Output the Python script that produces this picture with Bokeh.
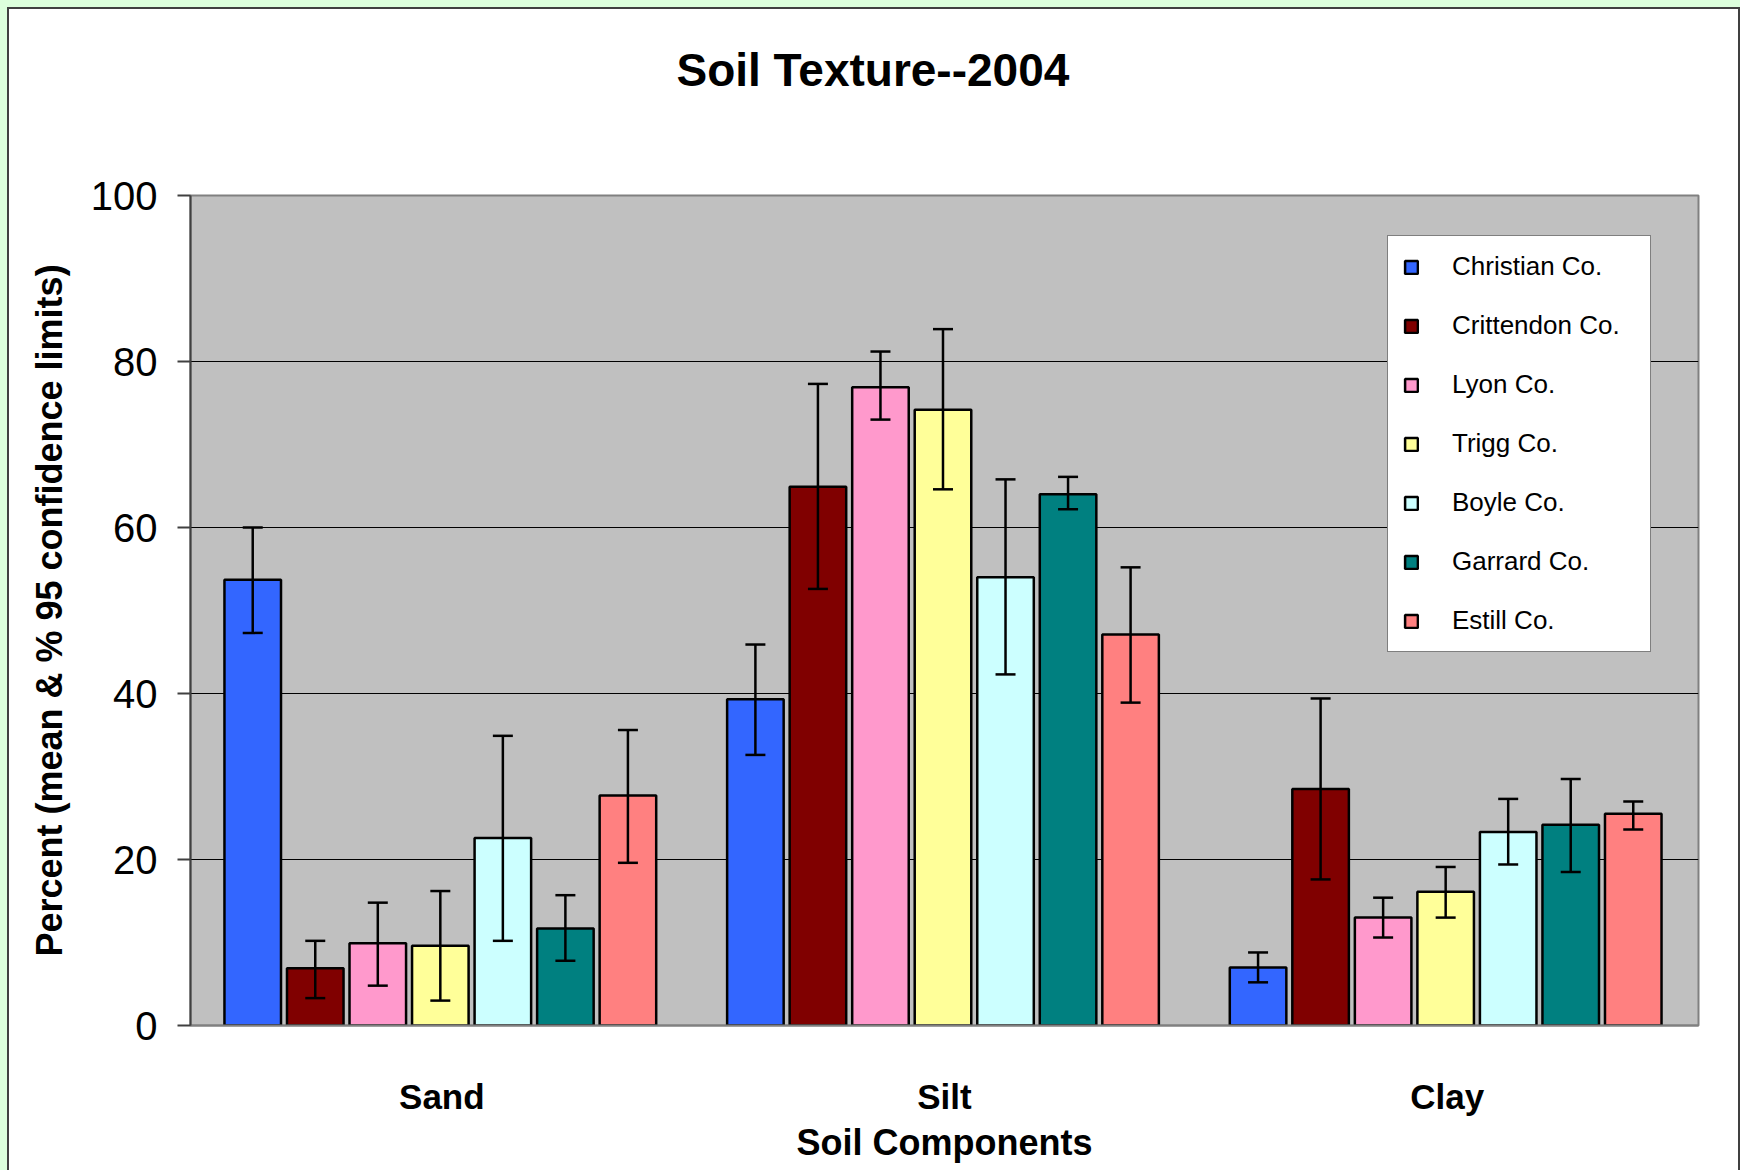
from bokeh.plotting import figure
from bokeh.models import (ColumnDataSource, FactorRange, Range1d, Whisker, TeeHead,
                          Legend, LegendItem, Title, FixedTicker)
from bokeh.transform import dodge
from bokeh.embed import file_html
from bokeh.resources import INLINE

# ---------------- data ----------------
components = ["Sand", "Silt", "Clay"]
counties = ["Christian Co.", "Crittendon Co.", "Lyon Co.", "Trigg Co.",
            "Boyle Co.", "Garrard Co.", "Estill Co."]
colors = ["#3366FF", "#800000", "#FF99CC", "#FFFF99", "#CCFFFF", "#008080", "#FF8080"]

christian_mean = [53.7, 39.3, 7.0]
crittendon_mean = [6.9, 64.9, 28.5]
lyon_mean = [9.9, 76.9, 13.0]
trigg_mean = [9.6, 74.2, 16.1]
boyle_mean = [22.6, 54.0, 23.3]
garrard_mean = [11.7, 64.0, 24.2]
estill_mean = [27.7, 47.1, 25.5]

christian_upper = [60.0, 45.9, 8.8]
crittendon_upper = [10.2, 77.3, 39.4]
lyon_upper = [14.8, 81.2, 15.4]
trigg_upper = [16.2, 83.9, 19.1]
boyle_upper = [34.9, 65.8, 27.3]
garrard_upper = [15.7, 66.1, 29.7]
estill_upper = [35.6, 55.2, 27.0]

christian_lower = [47.3, 32.6, 5.2]
crittendon_lower = [3.3, 52.6, 17.6]
lyon_lower = [4.8, 73.0, 10.6]
trigg_lower = [3.0, 64.6, 13.0]
boyle_lower = [10.2, 42.3, 19.4]
garrard_lower = [7.8, 62.2, 18.5]
estill_lower = [19.6, 38.9, 23.6]

y_ticks = [0, 20, 40, 60, 80, 100]

means = [christian_mean, crittendon_mean, lyon_mean, trigg_mean,
         boyle_mean, garrard_mean, estill_mean]
uppers = [christian_upper, crittendon_upper, lyon_upper, trigg_upper,
          boyle_upper, garrard_upper, estill_upper]
lowers = [christian_lower, crittendon_lower, lyon_lower, trigg_lower,
          boyle_lower, garrard_lower, estill_lower]

FONT = "Liberation Sans"

p = figure(x_range=FactorRange(factors=components, range_padding=0),
           y_range=Range1d(0, 100),
           width=1740, height=1170,
           output_backend="svg", toolbar_location=None,
           min_border_left=190, min_border_right=42,
           min_border_top=195, min_border_bottom=145)

# white chart area with the thin mint margin and dark frame line of the original
p.border_fill_alpha = 0
p.styles = {"background-color": "white",
            "box-shadow": "inset 7px 7px 0 0 #dcffdc, inset 9px 9px 0 0 #404040, "
                          "inset -2px 0 0 0 #404040"}

p.title = Title(text="Soil Texture--2004", align="left", offset=486,
                text_font=FONT, text_font_size="46px", text_font_style="bold",
                text_color="black", standoff=0)
# blank spacer between the title and the plot area
p.add_layout(Title(text=" ", text_font_size="2px", standoff=96), "above")

p.background_fill_color = "#C0C0C0"
p.outline_line_color = "#808080"
p.outline_line_width = 2

p.xgrid.visible = False
p.ygrid.grid_line_color = "black"
p.ygrid.grid_line_width = 1
p.ygrid.ticker = FixedTicker(ticks=[20, 40, 60, 80])

pitch = 0.1244
bar_w = 0.1125
renderers = []
for i, name in enumerate(counties):
    src = ColumnDataSource(dict(x=components, top=means[i],
                                upper=uppers[i], lower=lowers[i]))
    off = (i - 3) * pitch - 0.003
    r = p.vbar(x=dodge("x", off, range=p.x_range), top="top", width=bar_w,
               source=src, fill_color=colors[i], line_color="black", line_width=2.5)
    renderers.append(r)
    w = Whisker(base=dodge("x", off, range=p.x_range), upper="upper", lower="lower",
                source=src, line_color="black", line_width=2.5, level="overlay",
                upper_head=TeeHead(size=20, line_width=2.5, line_color="black"),
                lower_head=TeeHead(size=20, line_width=2.5, line_color="black"))
    p.add_layout(w)

# axes
p.yaxis.ticker = FixedTicker(ticks=y_ticks)
p.yaxis.axis_label = "Percent (mean & % 95 confidence limits)"
p.yaxis.axis_label_text_font = FONT
p.yaxis.axis_label_text_font_size = "36px"
p.yaxis.axis_label_text_font_style = "bold"
p.yaxis.axis_label_text_color = "black"
p.yaxis.axis_label_standoff = 18
p.yaxis.major_label_text_font = FONT
p.yaxis.major_label_text_font_size = "40px"
p.yaxis.major_label_text_color = "black"
p.yaxis.major_label_standoff = 20
p.yaxis.major_tick_out = 13
p.yaxis.major_tick_in = 0
p.yaxis.minor_tick_line_color = None
p.yaxis.axis_line_color = "#404040"
p.yaxis.axis_line_width = 2
p.yaxis.major_tick_line_color = "#404040"
p.yaxis.major_tick_line_width = 2

p.xaxis.axis_label = "Soil Components"
p.xaxis.axis_label_text_font = FONT
p.xaxis.axis_label_text_font_size = "36px"
p.xaxis.axis_label_text_font_style = "bold"
p.xaxis.axis_label_text_color = "black"
p.xaxis.axis_label_standoff = 3
p.xaxis.major_label_text_font = FONT
p.xaxis.major_label_text_font_size = "35px"
p.xaxis.major_label_text_font_style = "bold"
p.xaxis.major_label_text_color = "black"
p.xaxis.major_label_standoff = 45
p.xaxis.major_tick_line_color = None
p.xaxis.axis_line_color = "#808080"
p.xaxis.axis_line_width = 2

legend = Legend(items=[LegendItem(label=c, renderers=[r]) for c, r in zip(counties, renderers)],
                location=(1197, 373),
                label_text_font=FONT, label_text_font_size="26px", label_text_color="black",
                glyph_width=16, glyph_height=16, label_height=30, label_width=183,
                spacing=28, padding=15, label_standoff=33,
                border_line_color="black", border_line_width=1.5,
                background_fill_color="white", background_fill_alpha=1.0)
p.add_layout(legend)

open("out.html", "w").write(file_html(p, INLINE))
